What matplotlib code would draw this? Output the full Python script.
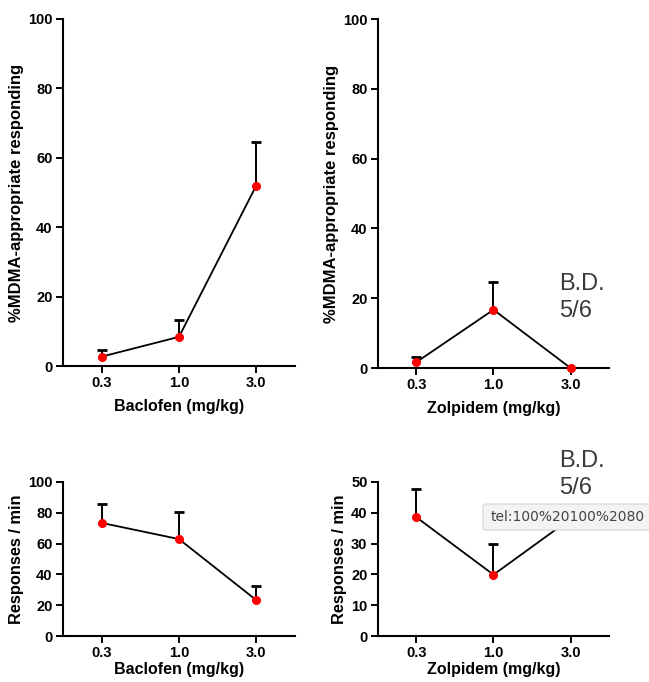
import matplotlib
matplotlib.use("Agg")
import matplotlib.pyplot as plt
from matplotlib.patches import FancyBboxPatch
import numpy as np

plt.rcParams['font.family'] = ['Liberation Sans', 'DejaVu Sans']

doses = ["0.3", "1.0", "3.0"]

bac_mdma = [2.7, 8.4, 52.0]
bac_mdma_err = [4.6, 13.3, 64.5]
zol_mdma = [1.7, 16.7, 0.0]
zol_mdma_err = [3.1, 24.7, 0.0]
bac_rate = [73.4, 62.9, 23.3]
bac_rate_err = [85.5, 80.2, 32.4]
zol_rate = [38.5, 19.9, 38.0]
zol_rate_err = [47.6, 29.7, 38.0]

fig = plt.figure(figsize=(6.49, 6.82), dpi=100)

def panel(rect, vals, tops, ylim, yticks, ylabel, xlabel, ylabsize, xlabpad):
    ax = fig.add_axes(rect)
    x = np.arange(len(doses))
    vals = np.array(vals); tops = np.array(tops)
    has = tops > vals
    ax.vlines(x[has], vals[has], tops[has], color='black', lw=1.4, zorder=2)
    ax.plot(x[has], tops[has], linestyle='none', marker='_', ms=7, mew=2.0,
            color='black', zorder=2)
    ax.plot(x, vals, color='black', lw=1.3, zorder=3)
    ax.plot(x, vals, 'o', color='#ff0000', ms=5.5, mec='#ff0000', zorder=4, clip_on=False)
    ax.set_xlim(-0.5, 2.5)
    ax.set_ylim(*ylim)
    ax.set_yticks(yticks)
    ax.set_xticks(x)
    ax.set_xticklabels(doses)
    for s in ['top', 'right']:
        ax.spines[s].set_visible(False)
    for s in ['left', 'bottom']:
        ax.spines[s].set_linewidth(1.5)
    ax.tick_params(axis='both', width=1.4, length=5, labelsize=10.5, pad=2.5)
    for lab in ax.get_xticklabels() + ax.get_yticklabels():
        lab.set_fontweight('bold')
    ax.set_ylabel(ylabel, fontsize=ylabsize, fontweight='bold', labelpad=3)
    ax.set_xlabel(xlabel, fontsize=11.5, fontweight='bold', labelpad=xlabpad)
    return ax

panel([0.097, 0.4633, 0.3575, 0.509], bac_mdma, bac_mdma_err, (0, 100),
      [0, 20, 40, 60, 80, 100], "%MDMA-appropriate responding", "Baclofen (mg/kg)", 12, 6)
panel([0.5824, 0.4604, 0.356, 0.5116], zol_mdma, zol_mdma_err, (0, 100),
      [0, 20, 40, 60, 80, 100], "%MDMA-appropriate responding", "Zolpidem (mg/kg)", 12, 6)
panel([0.097, 0.0674, 0.3575, 0.226], bac_rate, bac_rate_err, (0, 100),
      [0, 20, 40, 60, 80, 100], "Responses / min", "Baclofen (mg/kg)", 11.8, 1)
panel([0.5824, 0.0674, 0.356, 0.226], zol_rate, zol_rate_err, (0, 50),
      [0, 10, 20, 30, 40, 50], "Responses / min", "Zolpidem (mg/kg)", 11.8, 1)

bd_font = dict(family=['Liberation Sans', 'DejaVu Sans'], fontweight='normal', fontsize=17,
               color='#3a3a3a', linespacing=1.3)
fig.text(559 / 649, 1 - 273 / 682, "B.D.\n5/6", va='top', ha='left', **bd_font)
fig.text(559 / 649, 1 - 450 / 682, "B.D.\n5/6", va='top', ha='left', **bd_font)

# tooltip overlay
tip = FancyBboxPatch((483 / 649, 1 - 530 / 682), 0.4, 26 / 682,
                     boxstyle="round,pad=0,rounding_size=0.005",
                     transform=fig.transFigure, facecolor='#f3f3f3',
                     edgecolor='#d4d4d4', lw=0.8, zorder=10)
fig.add_artist(tip)
fig.text(491 / 649, 1 - 517 / 682, "tel:100%20100%2080", va='center', ha='left',
         fontsize=10, color='#444444', family=['DejaVu Sans'], zorder=11)

fig.savefig("out.png", dpi=100)
